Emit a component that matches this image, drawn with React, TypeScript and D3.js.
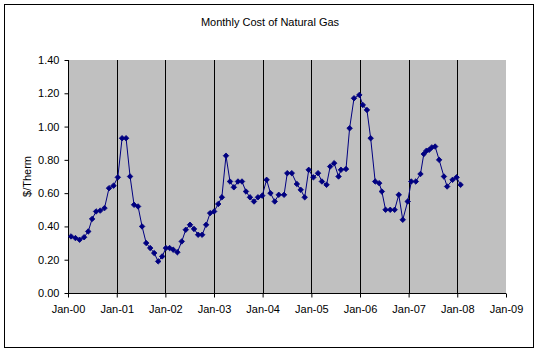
import React, { useEffect, useRef } from 'react';
import * as d3 from 'd3';

const title = 'Monthly Cost of Natural Gas';
const yLabel = '$/Therm';
const yTicks = [0, 0.2, 0.4, 0.6, 0.8, 1.0, 1.2, 1.4];

const dates = [
  '2000-01-24', '2000-02-26', '2000-03-28', '2000-05-01', '2000-06-01', '2000-06-30',
  '2000-07-30', '2000-08-30', '2000-10-01', '2000-11-04', '2000-12-08', '2001-01-09',
  '2001-02-10', '2001-03-12', '2001-04-11', '2001-05-11', '2001-06-10', '2001-07-10',
  '2001-08-10', '2001-09-09', '2001-10-09', '2001-11-08', '2001-12-08', '2002-01-05',
  '2002-02-02', '2002-03-01', '2002-04-01', '2002-05-04', '2002-06-03', '2002-07-05',
  '2002-08-04', '2002-09-04', '2002-10-04', '2002-11-03', '2002-12-03', '2003-01-02',
  '2003-02-02', '2003-03-01', '2003-04-01', '2003-05-01', '2003-05-30', '2003-06-30',
  '2003-07-30', '2003-08-29', '2003-09-28', '2003-10-28', '2003-11-27', '2003-12-29',
  '2004-01-31', '2004-02-29', '2004-04-01', '2004-05-01', '2004-06-10', '2004-07-04',
  '2004-08-07', '2004-09-14', '2004-10-13', '2004-11-12', '2004-12-12', '2005-01-16',
  '2005-02-20', '2005-03-21', '2005-04-25', '2005-05-22', '2005-06-21', '2005-07-24',
  '2005-08-11', '2005-09-18', '2005-10-15', '2005-11-17', '2005-12-27', '2006-01-22',
  '2006-02-22', '2006-03-22', '2006-04-25', '2006-05-25', '2006-06-14', '2006-07-12',
  '2006-08-16', '2006-09-18', '2006-10-19', '2006-11-18', '2006-12-25', '2007-01-21',
  '2007-02-24', '2007-03-31', '2007-04-25', '2007-05-15', '2007-06-04', '2007-06-24',
  '2007-07-19', '2007-08-18', '2007-09-23', '2007-10-17', '2007-11-27', '2007-12-27',
  '2008-01-26',
];

const values = [
  0.34, 0.33, 0.32, 0.335, 0.37, 0.445,
  0.49, 0.495, 0.51, 0.63, 0.645, 0.695,
  0.93, 0.93, 0.7, 0.53, 0.52, 0.4,
  0.3, 0.27, 0.24, 0.19, 0.22, 0.27,
  0.27, 0.26, 0.245, 0.31, 0.38, 0.41,
  0.385, 0.35, 0.35, 0.41, 0.48, 0.49,
  0.535, 0.575, 0.825, 0.67, 0.635, 0.67,
  0.67, 0.61, 0.575, 0.55, 0.575, 0.585,
  0.68, 0.6, 0.55, 0.59, 0.59, 0.72,
  0.72, 0.655, 0.62, 0.575, 0.74, 0.695,
  0.72, 0.67, 0.65, 0.76, 0.78, 0.7,
  0.74, 0.745, 0.99, 1.17, 1.19, 1.13,
  1.1, 0.93, 0.67, 0.66, 0.61, 0.5,
  0.5, 0.5, 0.59, 0.44, 0.55, 0.67,
  0.67, 0.715, 0.835, 0.855, 0.86, 0.875,
  0.88, 0.8, 0.7, 0.64, 0.68, 0.695,
  0.65,
];

export default function App() {
  const ref = useRef<SVGSVGElement>(null);

  useEffect(() => {
    const svg = d3.select(ref.current);
    svg.selectAll('*').remove();

    const W = 541, H = 356;
    const plot = { left: 68, right: 506, top: 60, bottom: 293 };
    const font = 'Arial, "Liberation Sans", sans-serif';

    svg.append('rect').attr('x', 0).attr('y', 0).attr('width', W).attr('height', H).attr('fill', '#fff');
    svg.append('rect').attr('x', 4.5).attr('y', 4.5).attr('width', 529).attr('height', 343)
      .attr('fill', '#fff').attr('stroke', '#000').attr('stroke-width', 1);

    const parse = d3.timeParse('%Y-%m-%d');
    const data = dates.map((d, i) => ({ date: parse(d) as Date, value: values[i] }));

    const x = d3.scaleTime()
      .domain([new Date(2000, 0, 1), new Date(2009, 0, 1)])
      .range([plot.left, plot.right]);
    const y = d3.scaleLinear().domain([0, 1.4]).range([plot.bottom, plot.top]);

    svg.append('rect')
      .attr('x', plot.left).attr('y', plot.top)
      .attr('width', plot.right - plot.left).attr('height', plot.bottom - plot.top)
      .attr('fill', '#C0C0C0');

    const years = x.ticks(d3.timeYear.every(1));

    // vertical gridlines
    svg.append('g').selectAll('line')
      .data(years.filter((d) => +d > +x.domain()[0] && +d < +x.domain()[1]))
      .join('line')
      .attr('x1', (d) => Math.round(x(d)) + 0.5).attr('x2', (d) => Math.round(x(d)) + 0.5)
      .attr('y1', plot.top).attr('y2', plot.bottom)
      .attr('stroke', '#000').attr('stroke-width', 1);

    // axes
    const xAxis = d3.axisBottom(x)
      .tickValues(years)
      .tickFormat((d) => d3.timeFormat('Jan-%y')(d as Date))
      .tickSize(4)
      .tickPadding(8);
    const gx = svg.append('g').attr('transform', `translate(0,${plot.bottom + 0.5})`).call(xAxis);
    gx.select('.domain').attr('stroke', '#000').attr('d', `M${plot.left},0H${plot.right}`);
    gx.selectAll('.tick line').attr('stroke', '#000');
    gx.selectAll('.tick text').attr('font-family', font).attr('font-size', 11).attr('fill', '#000');

    const yAxis = d3.axisLeft(y)
      .tickValues(yTicks)
      .tickFormat((d) => d3.format('.2f')(d as number))
      .tickSize(4)
      .tickPadding(5);
    const gy = svg.append('g').attr('transform', `translate(${plot.left + 0.5},0)`).call(yAxis);
    gy.select('.domain').attr('stroke', '#000').attr('d', `M0,${plot.top}V${plot.bottom}`);
    gy.selectAll('.tick line').attr('stroke', '#000');
    gy.selectAll('.tick text').attr('font-family', font).attr('font-size', 11).attr('fill', '#000');

    // line
    const line = d3.line<{ date: Date; value: number }>()
      .x((d) => x(d.date)).y((d) => y(d.value));
    svg.append('path').datum(data)
      .attr('d', line).attr('fill', 'none').attr('stroke', '#000080').attr('stroke-width', 1);

    // markers
    const sym = d3.symbol().type(d3.symbolSquare).size(15);
    svg.append('g').selectAll('path')
      .data(data).join('path')
      .attr('d', sym as any)
      .attr('transform', (d) => `translate(${x(d.date)},${y(d.value)}) rotate(45)`)
      .attr('fill', '#000080').attr('stroke', '#000080').attr('stroke-width', 0.8);

    // title
    svg.append('text').attr('x', 270).attr('y', 26).attr('text-anchor', 'middle')
      .attr('font-family', font).attr('font-size', 11).attr('fill', '#000').text(title);

    // y label
    svg.append('text').attr('transform', `translate(31,${(plot.top + plot.bottom) / 2}) rotate(-90)`)
      .attr('text-anchor', 'middle')
      .attr('font-family', font).attr('font-size', 11).attr('fill', '#000').text(yLabel);
  }, []);

  return (
    <svg ref={ref} width={541} height={356}
      style={{ position: 'absolute', left: 0, top: 0, display: 'block' }} />
  );
}
